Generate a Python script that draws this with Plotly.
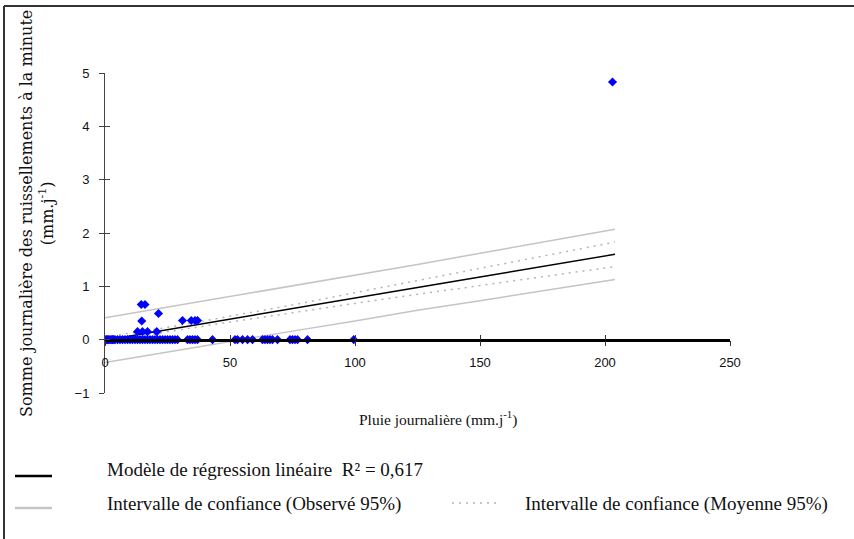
import plotly.graph_objects as go

# Observations: daily rainfall (mm/day) vs daily runoff sum (mm/day)
rain_obs = [0, 0.5, 1, 1.5, 2, 2.5, 3, 3.5, 4, 5, 6, 7, 8, 9, 10, 11, 12, 13, 14, 15,
            16, 17, 18, 19, 20, 21, 22, 23, 24, 25, 26, 27, 28, 29, 33, 34, 35, 36, 37,
            43, 52, 53, 55, 57, 59, 63, 64, 65, 66, 67, 69, 74, 75, 76, 77, 81, 99.5,
            14.5, 16, 21.4, 14.7, 31, 34.5, 36, 37, 13, 15, 17, 20.7, 203]
runoff_obs = [0] * 57 + [0.66, 0.66, 0.49, 0.35, 0.36, 0.36, 0.36, 0.36,
                         0.15, 0.15, 0.15, 0.15, 4.83]

# Fitted linear model and its 95% bands
fit_x = [0, 25, 50, 75, 100, 125, 150, 175, 204]
fit_y = [-0.01, 0.19, 0.385, 0.58, 0.78, 0.98, 1.175, 1.37, 1.60]
obs_upper = [0.41, 0.61, 0.80, 1.00, 1.21, 1.41, 1.62, 1.83, 2.07]
obs_lower = [-0.43, -0.23, -0.03, 0.16, 0.35, 0.55, 0.73, 0.91, 1.13]
mean_upper = [0.05, 0.23, 0.44, 0.65, 0.88, 1.11, 1.34, 1.56, 1.83]
mean_lower = [-0.07, 0.15, 0.33, 0.51, 0.68, 0.85, 1.01, 1.18, 1.37]

x_ticks = [0, 50, 100, 150, 200, 250]
y_ticks = [-1, 0, 1, 2, 3, 4, 5]

W, H = 854, 539
L, R, T, B = 105, 730, 73, 393


def px(xp):
    return (xp - L) / (R - L)


def py(yp):
    return (B - yp) / (B - T)


fig = go.Figure()

band_grey = "#c4c4c4"
dot_grey = "#b4b4b4"
fig.add_trace(go.Scatter(x=fit_x, y=obs_upper, mode="lines",
                         line=dict(color=band_grey, width=1.5), hoverinfo="skip"))
fig.add_trace(go.Scatter(x=fit_x, y=obs_lower, mode="lines",
                         line=dict(color=band_grey, width=1.5), hoverinfo="skip"))
fig.add_trace(go.Scatter(x=fit_x, y=mean_upper, mode="lines",
                         line=dict(color=dot_grey, width=1.5, dash="2px,5px"), hoverinfo="skip"))
fig.add_trace(go.Scatter(x=fit_x, y=mean_lower, mode="lines",
                         line=dict(color=dot_grey, width=1.5, dash="2px,5px"), hoverinfo="skip"))
fig.add_trace(go.Scatter(x=fit_x, y=fit_y, mode="lines",
                         line=dict(color="black", width=1.5)))
fig.add_trace(go.Scatter(x=rain_obs, y=runoff_obs, mode="markers",
                         marker=dict(color="#0000ff", size=7, symbol="diamond",
                                     line=dict(width=0))))
# empty trace so the tick-only overlay axes get drawn
fig.add_trace(go.Scatter(x=[None], y=[None], xaxis="x2", yaxis="y2",
                         mode="markers", hoverinfo="skip"))

tick_font = dict(family="Liberation Sans", size=13, color="#111")

fig.update_layout(
    width=W, height=H,
    margin=dict(l=L, r=W - R, t=T, b=H - B),
    paper_bgcolor="white", plot_bgcolor="white",
    showlegend=False,
    xaxis=dict(range=[0, 250], tickvals=x_ticks, showgrid=False, zeroline=False,
               anchor="free", position=1 / 6, showline=True, linecolor="black",
               linewidth=2.5, ticks="outside", ticklen=5, tickcolor="#333",
               tickwidth=1, tickfont=tick_font, ticklabelstandoff=5),
    yaxis=dict(range=[-1, 5], tickvals=y_ticks, showgrid=False, zeroline=False,
               showline=True, linecolor="#444", linewidth=1, ticks="outside",
               ticklen=5, tickcolor="#444", tickfont=tick_font,
               ticklabelstandoff=7),
    xaxis2=dict(range=[0, 250], tickvals=x_ticks, overlaying="x", anchor="free",
                position=1 / 6, side="bottom", showgrid=False, zeroline=False,
                showline=False, ticks="inside", ticklen=5, tickcolor="#333",
                showticklabels=False),
    yaxis2=dict(range=[-1, 5], tickvals=y_ticks, overlaying="y", side="left",
                anchor="x2", showgrid=False, zeroline=False, showline=False,
                ticks="inside", ticklen=5, tickcolor="#444", showticklabels=False),
)

serif = "Liberation Serif"
legend_font = dict(family=serif, size=19, color="#111")
annotations = [
    dict(text="Somme journalière des ruissellements à la minute<br>(mm.j<sup>-1</sup>)",
         x=px(37), y=py(214), xref="paper", yref="paper", textangle=-90,
         showarrow=False, font=dict(family="DejaVu Serif", size=16, color="#111"),
         xanchor="center", yanchor="middle"),
    dict(text="Pluie journalière (mm.j<sup>-1</sup>)", x=px(438), y=py(418),
         xref="paper", yref="paper", showarrow=False,
         font=dict(family=serif, size=15.5, color="#111"),
         xanchor="center", yanchor="middle"),
    dict(text="Modèle de régression linéaire  R² = 0,617", x=px(105), y=py(469),
         xref="paper", yref="paper", showarrow=False, font=legend_font,
         xanchor="left", yanchor="middle"),
    dict(text="Intervalle de confiance (Observé 95%)", x=px(105), y=py(504),
         xref="paper", yref="paper", showarrow=False, font=legend_font,
         xanchor="left", yanchor="middle"),
    dict(text="Intervalle de confiance (Moyenne 95%)", x=px(523), y=py(504),
         xref="paper", yref="paper", showarrow=False, font=legend_font,
         xanchor="left", yanchor="middle"),
]
fig.update_layout(annotations=annotations)

shapes = [
    # legend keys
    dict(type="line", xref="paper", yref="paper", x0=px(15), x1=px(52),
         y0=py(476), y1=py(476), line=dict(color="black", width=2.5)),
    dict(type="line", xref="paper", yref="paper", x0=px(15), x1=px(52),
         y0=py(508), y1=py(508), line=dict(color=band_grey, width=2.5)),
    dict(type="line", xref="paper", yref="paper", x0=px(452), x1=px(500),
         y0=py(503), y1=py(503), line=dict(color=dot_grey, width=1.5, dash="2px,5px")),
    # outer frame
    dict(type="line", xref="paper", yref="paper", x0=px(4), x1=px(4),
         y0=py(6), y1=py(539), line=dict(color="#333", width=2)),
    dict(type="line", xref="paper", yref="paper", x0=px(4), x1=px(854),
         y0=py(6), y1=py(6), line=dict(color="#333", width=2)),
]
fig.update_layout(shapes=shapes)

fig.write_html("out.html")
